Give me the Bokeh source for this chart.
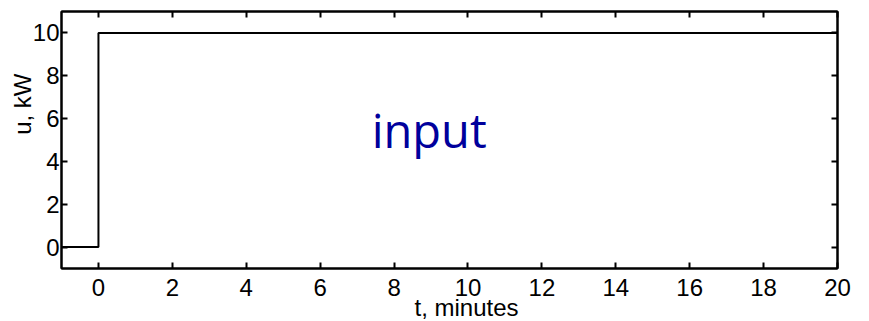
from bokeh.plotting import figure
from bokeh.models import (LinearAxis, SingleIntervalTicker, Range1d, Label, Title,
                          CustomJSTickFormatter)
from bokeh.embed import file_html
from bokeh.resources import INLINE

# Step input: heater power switched from 0 to 10 kW at t = 0
t_min = [-1, 0, 0, 20]
u_kw = [0, 0, 10, 10]

x_ticks_step = 2
y_ticks_step = 2

FONT = "Liberation Sans"

p = figure(
    width=869, height=321,
    x_range=Range1d(-1, 20), y_range=Range1d(-1, 11),
    output_backend="svg", toolbar_location=None,
    x_axis_type=None, y_axis_type=None,
    min_border_left=61, min_border_right=32,
    min_border_top=11, min_border_bottom=53,
)
p.grid.visible = False
p.outline_line_color = "black"
p.outline_line_width = 2
p.background_fill_color = "white"
p.border_fill_color = "white"


def make_axis(interval, show_labels):
    ax = LinearAxis(ticker=SingleIntervalTicker(interval=interval, num_minor_ticks=0))
    ax.axis_line_color = "black"
    ax.axis_line_width = 2
    ax.major_tick_in = 6
    ax.major_tick_out = 0
    ax.major_tick_line_width = 2
    ax.major_tick_line_color = "black"
    ax.minor_tick_line_color = None
    if show_labels:
        ax.major_label_text_font = FONT
        ax.major_label_text_font_size = "24px"
        ax.major_label_text_color = "black"
    else:
        # mirrored tick marks only, no numbers
        ax.formatter = CustomJSTickFormatter(code="return ''")
        ax.major_label_text_font_size = "1px"
        ax.major_label_standoff = 0
    return ax


xb = make_axis(x_ticks_step, True)
xb.major_label_standoff = 10
yl = make_axis(y_ticks_step, True)
yl.major_label_standoff = 2
xt = make_axis(x_ticks_step, False)
yr = make_axis(y_ticks_step, False)

p.add_layout(xb, "below")
p.add_layout(yl, "left")
p.add_layout(xt, "above")
p.add_layout(yr, "right")

p.line(t_min, u_kw, line_color="black", line_width=2)

p.add_layout(Label(x=8.95, y=5.45, text="input", text_font="Open Sans",
                   text_font_size="47px", text_color="#00009c",
                   text_align="center", text_baseline="alphabetic"))

# axis titles
p.add_layout(Title(text="t, minutes", align="left", offset=353, standoff=-9,
                   vertical_align="top",
                   text_font=FONT, text_font_size="24px", text_font_style="normal",
                   text_color="black"), "below")

p.add_layout(Title(text="u, kW", align="right", offset=62, standoff=-12,
                   text_font=FONT, text_font_size="24px", text_font_style="normal",
                   text_color="black"), "left")

open("out.html", "w").write(file_html(p, INLINE))
